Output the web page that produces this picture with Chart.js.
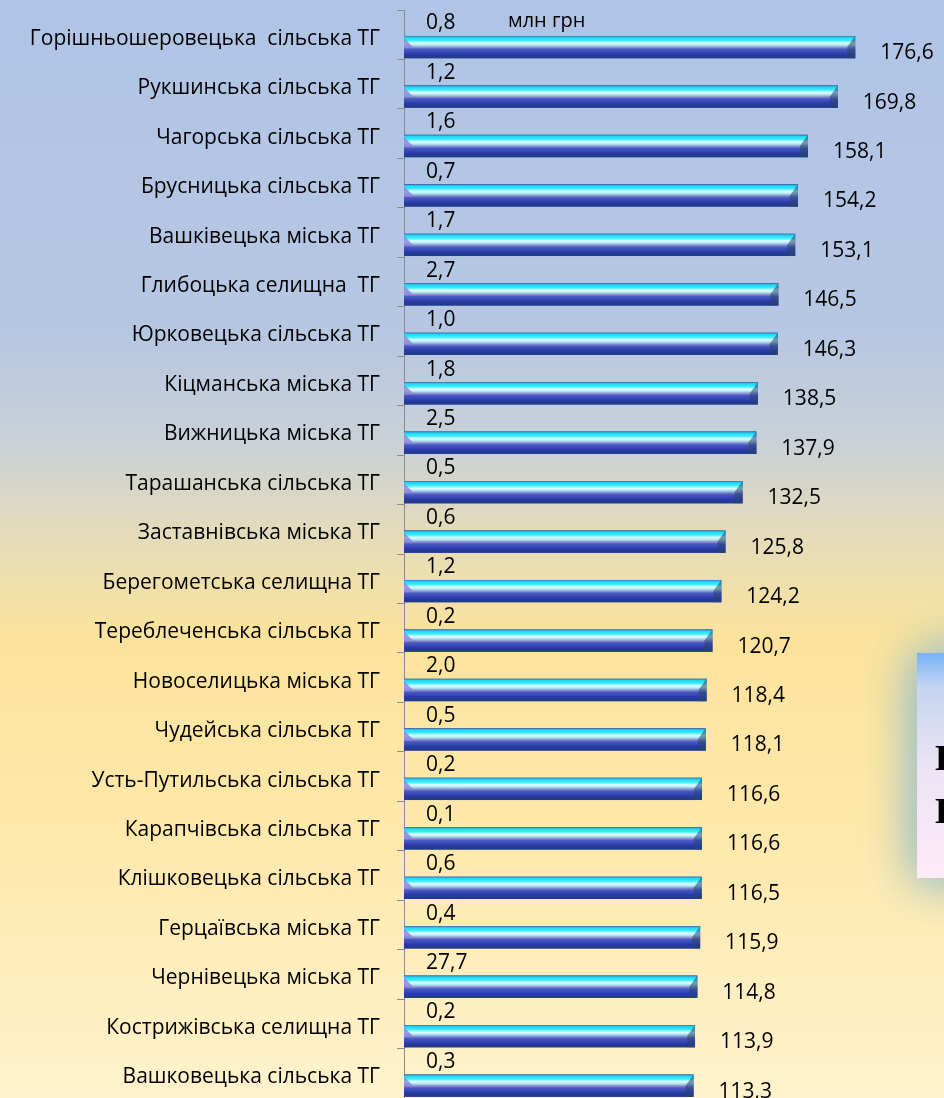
<!DOCTYPE html>
<html>
<head>
<meta charset="utf-8">
<script src="https://cdn.jsdelivr.net/npm/chart.js@4.4.0/dist/chart.umd.min.js"></script>
<style>
  html, body { margin: 0; padding: 0; }
  #wrap { width: 944px; height: 1098px; }
</style>
</head>
<body>
<div id="wrap"><canvas id="myChart"></canvas></div>
<script>

var categories = [
  'Горішньошеровецька  сільська ТГ', 'Рукшинська сільська ТГ', 'Чагорська сільська ТГ',
  'Брусницька сільська ТГ', 'Вашківецька міська ТГ', 'Глибоцька селищна  ТГ',
  'Юрковецька сільська ТГ', 'Кіцманська міська ТГ', 'Вижницька міська ТГ',
  'Тарашанська сільська ТГ', 'Заставнівська міська ТГ', 'Берегометська селищна ТГ',
  'Тереблеченська сільська ТГ', 'Новоселицька міська ТГ', 'Чудейська сільська ТГ',
  'Усть-Путильська сільська ТГ', 'Карапчівська сільська ТГ', 'Клішковецька сільська ТГ',
  'Герцаївська міська ТГ', 'Чернівецька міська ТГ', 'Кострижівська селищна ТГ',
  'Вашковецька сільська ТГ'
];

// small values (upper row, bars not visible)
var smallValues = [0.8, 1.2, 1.6, 0.7, 1.7, 2.7, 1.0, 1.8, 2.5, 0.5, 0.6, 1.2, 0.2, 2.0, 0.5, 0.2, 0.1, 0.6, 0.4, 27.7, 0.2, 0.3];

// main values
var mainValues = [176.6, 169.8, 158.1, 154.2, 153.1, 146.5, 146.3, 138.5, 137.9, 132.5, 125.8, 124.2, 120.7, 118.4, 118.1, 116.6, 116.6, 116.5, 115.9, 114.8, 113.9, 113.3];

var unitLabel = 'млн грн';

var FONT = "'Open Sans', sans-serif";

function fmt(v) {
  return v.toFixed(1).replace('.', ',');
}

var bgPlugin = {
  id: 'bg',
  beforeDraw: function (chart) {
    var c = chart.ctx;
    var g = c.createLinearGradient(0, 0, 0, chart.height);
    g.addColorStop(0, '#b0c4e6');
    g.addColorStop(0.3, '#b6c7e2');
    g.addColorStop(0.4, '#c9d0d8');
    g.addColorStop(0.48, '#e2dbbc');
    g.addColorStop(0.58, '#fce39c');
    g.addColorStop(0.75, '#fee8aa');
    g.addColorStop(1, '#fff2cc');
    c.save();
    c.fillStyle = g;
    c.fillRect(0, 0, chart.width, chart.height);
    c.restore();
  },
  afterDraw: function (chart) {
    var c = chart.ctx;
    c.save();
    // box at the right edge, mostly cut off
    var bx = 917, by = 653, bw = 80, bh = 225;
    var g = c.createLinearGradient(0, by, 0, by + bh);
    g.addColorStop(0, '#78b2f8');
    g.addColorStop(0.15, '#c4d4f0');
    g.addColorStop(0.5, '#ece4f4');
    g.addColorStop(1, '#ffeaf8');
    c.shadowColor = 'rgba(150,190,200,0.9)';
    c.shadowBlur = 50;
    c.fillStyle = g;
    c.fillRect(bx, by, bw, bh);
    c.fillRect(bx, by, bw, bh);
    c.shadowBlur = 0;
    c.fillRect(bx, by, bw, bh);
    c.fillStyle = '#000';
    c.font = "bold 36px 'Liberation Serif', serif";
    c.textBaseline = 'alphabetic';
    c.textAlign = 'left';
    c.fillText('Н', 935, 770);
    c.fillText('Н', 935, 823);
    c.restore();
  }
};

var barPlugin = {
  id: 'bars',
  afterDatasetsDraw: function (chart) {
    var c = chart.ctx;
    c.save();
    var meta = chart.getDatasetMeta(1);
    meta.data.forEach(function (el, i) {
      var top = el.y - el.height / 2;
      var h = el.height;
      var x0 = el.base, x1 = el.x;
      var g = c.createLinearGradient(0, top, 0, top + h);
      g.addColorStop(0, '#3a70b0');
      g.addColorStop(0.07, '#1ed6f2');
      g.addColorStop(0.2, '#3cecff');
      g.addColorStop(0.32, '#e6ffff');
      g.addColorStop(0.42, '#a8e4f4');
      g.addColorStop(0.5, '#9299d2');
      g.addColorStop(0.6, '#4a5ac4');
      g.addColorStop(0.82, '#2a3aa8');
      g.addColorStop(1, '#1d3c80');
      c.fillStyle = g;
      c.fillRect(x0, top, x1 - x0, h);
      // left bevel
      c.fillStyle = 'rgba(140,130,220,0.8)';
      c.beginPath();
      c.moveTo(x0, top + 2);
      c.lineTo(x0 + 9, top + h * 0.5);
      c.lineTo(x0, top + h * 0.5);
      c.closePath();
      c.fill();
      // right bevel
      c.fillStyle = 'rgba(40,70,110,0.55)';
      c.beginPath();
      c.moveTo(x1, top);
      c.lineTo(x1 - 8, top + h * 0.5);
      c.lineTo(x1 - 8, top + h);
      c.lineTo(x1, top + h);
      c.closePath();
      c.fill();
    });

    c.fillStyle = '#000';
    c.textAlign = 'left';
    c.textBaseline = 'middle';
    c.font = '21px ' + FONT;
    meta.data.forEach(function (el, i) {
      c.fillText(fmt(mainValues[i]), el.x + 25, el.y + 6);
    });
    var meta0 = chart.getDatasetMeta(0);
    meta0.data.forEach(function (el, i) {
      c.fillText(fmt(smallValues[i]), el.base + 22, el.y + 1);
    });
    c.font = '20px ' + FONT;
    c.fillText(unitLabel, 508, 21);
    c.restore();
  }
};

var ctx = document.getElementById('myChart').getContext('2d');

var myChart = new Chart(ctx, {
  type: 'bar',
  data: {
    labels: categories,
    datasets: [{
      data: smallValues,
      backgroundColor: 'rgba(0,0,0,0)',
      categoryPercentage: 1,
      barPercentage: 0.9
    }, {
      data: mainValues,
      backgroundColor: '#2a3aa8',
      categoryPercentage: 1,
      barPercentage: 0.9
    }]
  },
  options: {
    indexAxis: 'y',
    responsive: true,
    maintainAspectRatio: false,
    animation: false,
    layout: { padding: { top: 10, bottom: 0, right: 29, left: 0 } },
    plugins: {
      legend: { display: false },
      tooltip: { enabled: false }
    },
    scales: {
      x: {
        display: false,
        min: 0,
        max: 200
      },
      y: {
        afterFit: function (scale) {
          scale.width = 404;
          scale.paddingTop = 0;
          scale.paddingBottom = 0;
        },
        grid: {
          drawOnChartArea: false,
          drawTicks: true,
          tickLength: 7,
          color: '#8c8c8c'
        },
        border: { display: true, color: '#8c8c8c' },
        ticks: {
          padding: 17,
          labelOffset: 4,
          color: '#000',
          font: { family: "'Open Sans', sans-serif", size: 21 }
        }
      }
    }
  },
  plugins: [bgPlugin, barPlugin]
});
</script>
</body>
</html>
